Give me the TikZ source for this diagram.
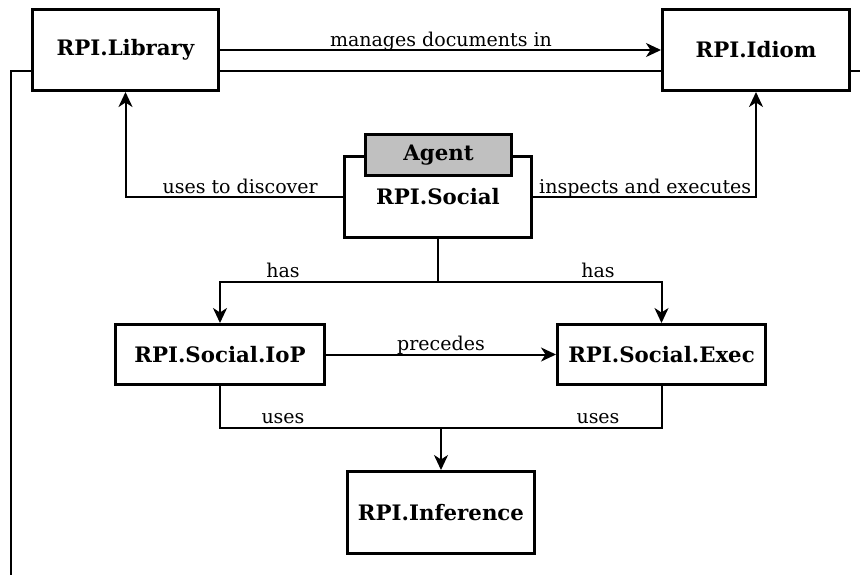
\documentclass[tikz,border=0pt]{standalone}
\usepackage{fontspec}
\setmainfont{DejaVu Serif}
\usetikzlibrary{arrows.meta}
\definecolor{agentgray}{RGB}{192,192,192}
\begin{document}
\begin{tikzpicture}[x=1pt,y=-1pt,
  box/.style={draw, line width=3pt, fill=white, inner sep=0pt,
    font=\fontsize{21.3}{25}\selectfont\bfseries},
  wire/.style={line width=2pt},
  conn/.style={wire, -{Stealth[length=15pt,width=14pt,inset=4.5pt]}},
  lbl/.style={font=\fontsize{19}{23}\selectfont, inner sep=0pt}]
\useasboundingbox (0,0) rectangle (860,574);

% long return line running behind the top row
\coordinate (wrapA) at (11,580);
\coordinate (wrapB) at (866,71);
\draw[wire] (wrapA) |- (wrapB);

% components
\node[box, minimum width=186pt, minimum height=81pt] (lib)   at (125.5,50)  {RPI.Library};
\node[box, minimum width=187pt, minimum height=81pt] (idiom) at (756,50)    {RPI.Idiom};
\node[box, minimum width=187pt, minimum height=81pt] (social) at (438,197) {RPI.Social};
\node[box, fill=agentgray, minimum width=146pt, minimum height=41pt] (agent) at (438.5,155) {Agent};
\node[box, minimum width=209pt, minimum height=60pt] (iop)   at (220,354.5) {RPI.Social.IoP};
\node[box, minimum width=208pt, minimum height=60pt] (exec)  at (661.5,354.5) {RPI.Social.Exec};
\node[box, minimum width=187pt, minimum height=82pt] (inf)   at (441,512.5) {RPI.Inference};

% relations
\draw[conn] (lib) -- (idiom);
\node[lbl, anchor=base] (lmanage) at (441,46) {manages documents in};

\draw[conn] (social.west) -| (lib.south);
\node[lbl, anchor=base east] (ldisc) at (318,193) {uses to discover};

\draw[conn] (social.east) -| (idiom.south);
\node[lbl, anchor=base west] (linsp) at (539,193) {inspects and executes};

\coordinate (split) at (438,282);
\draw[wire] (social.south) -- (split);
\draw[conn] (split) -| (iop.north);
\draw[conn] (split) -| (exec.north);
\node[lbl, anchor=base] (lhas1) at (283,277) {has};
\node[lbl, anchor=base] (lhas2) at (598,277) {has};

\draw[conn] (iop) -- (exec);
\node[lbl, anchor=base] (lprec) at (441,350) {precedes};

\coordinate (merge) at (441,428);
\draw[wire] (iop.south) |- (merge);
\draw[wire] (exec.south) |- (merge);
\draw[conn] (merge) -- (inf.north);
\node[lbl, anchor=base] (luses1) at (283,423) {uses};
\node[lbl, anchor=base] (luses2) at (598,423) {uses};
\end{tikzpicture}
\end{document}
